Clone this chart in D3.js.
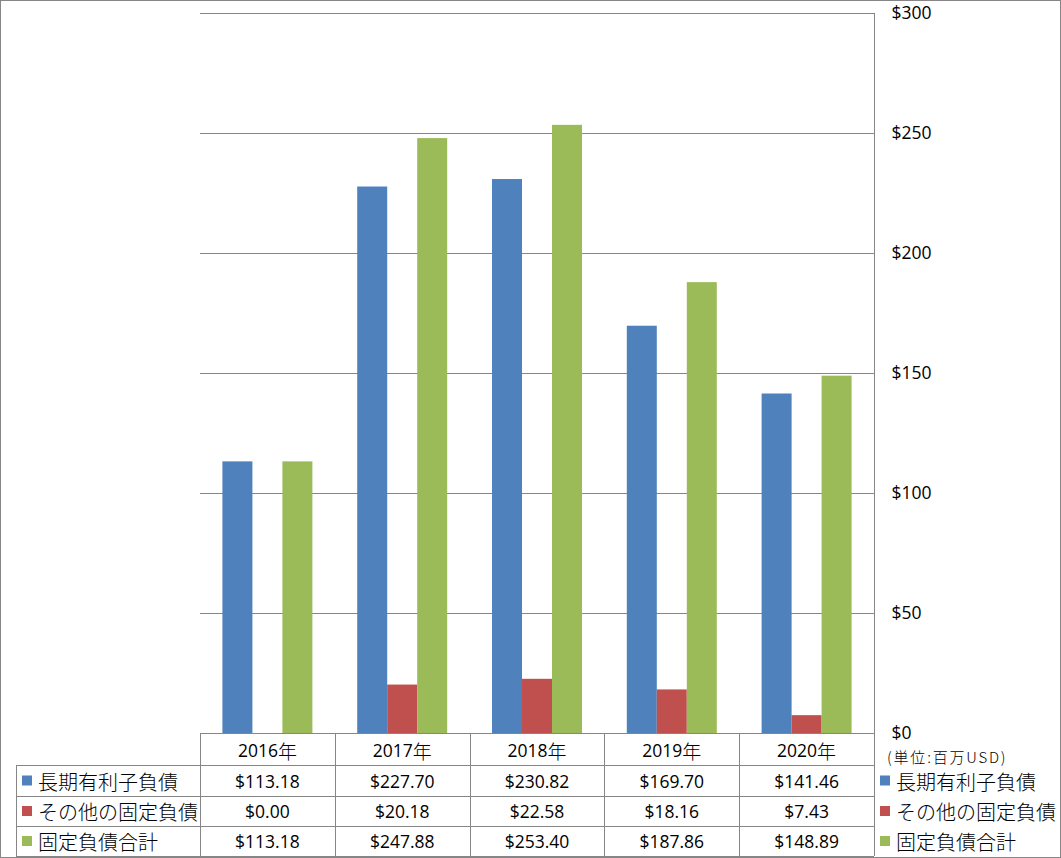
<!DOCTYPE html>
<html><head><meta charset="utf-8">
<script src="https://cdn.jsdelivr.net/npm/d3@7/dist/d3.min.js"></script>
<style>body{margin:0;background:#fff}svg{display:block}</style>
</head><body>
<svg id="c" width="1061" height="858"></svg>
<script>
const categories = ["2016年","2017年","2018年","2019年","2020年"];
const seriesNames = ["長期有利子負債","その他の固定負債","固定負債合計"];
const seriesColors = ["#4F81BD","#C0504D","#9BBB59"];
const longTermDebt = [113.18,227.70,230.82,169.70,141.46];
const otherFixed = [0.00,20.18,22.58,18.16,7.43];
const totalFixed = [113.18,247.88,253.40,187.86,148.89];
const yTicks = [0,50,100,150,200,250,300];
const unitLabel = "(単位:百万USD)";

const seriesValues = [longTermDebt, otherFixed, totalFixed];
const svg = d3.select("#c");
const grid = "#868686";
const L = 200, R = 874, T = 13, B = 733;

const x0 = d3.scaleBand().domain(categories).range([L, R]);
const bw = x0.bandwidth();
const x1 = d3.scaleBand().domain(seriesNames).range([bw*0.1662, bw*0.8338]);
const y = d3.scaleLinear().domain([0,300]).range([B, T]);

// rich text helper: CJK in Noto Sans CJK JP, Latin in Open Sans
function rich(sel, str, latinSize, cjkSize){
  const runs = str.match(/[\u3000-\u9fff\uff00-\uffef]+|[^\u3000-\u9fff\uff00-\uffef]+/g) || [];
  runs.forEach(r=>{
    const cjk = /[\u3000-\u9fff\uff00-\uffef]/.test(r);
    sel.append("tspan").text(r)
      .attr("font-family", cjk ? "'Noto Sans CJK JP'" : "'Open Sans'")
      .attr("font-weight", cjk ? 300 : 400)
      .attr("font-size", cjk ? cjkSize : latinSize);
  });
}

svg.append("rect").attr("x",0.5).attr("y",0.5).attr("width",1060).attr("height",857)
  .attr("fill","#fff").attr("stroke",grid);

// gridlines
svg.append("g").selectAll("line").data(yTicks).join("line")
  .attr("x1",L).attr("x2",R).attr("y1",d=>Math.round(y(d))+0.5).attr("y2",d=>Math.round(y(d))+0.5)
  .attr("stroke",grid).attr("stroke-width",1);

// bars
const groups = svg.append("g").selectAll("g").data(categories).join("g")
  .attr("transform",d=>`translate(${x0(d)},0)`);
groups.selectAll("rect").data((d,i)=>seriesNames.map((s,j)=>({s,j,v:seriesValues[j][i]}))).join("rect")
  .attr("x",d=>x1(d.s)).attr("width",x1.bandwidth())
  .attr("y",d=>y(d.v)).attr("height",d=>B-y(d.v))
  .attr("fill",d=>seriesColors[d.j]);

// right axis
const ax = svg.append("g").attr("transform",`translate(${R+0.5},0)`)
  .call(d3.axisRight(y).tickValues(yTicks).tickSize(0).tickPadding(17).tickFormat(d=>"$"+d));
ax.select(".domain").attr("stroke",grid).attr("d",`M0,${T}V${B}`);
ax.selectAll("text").attr("font-family","'Open Sans'").attr("font-size",17.5).attr("fill","#000");

svg.append("text").attr("x",887).attr("y",756).attr("dominant-baseline","central")
  .attr("font-family","'Noto Sans CJK JP'").attr("font-weight",300).attr("font-size",15)
  .attr("letter-spacing",1.8).text(unitLabel);

// table
const rowsY = [733,765,796,826,856];
const tg = svg.append("g").attr("stroke",grid).attr("stroke-width",1);
rowsY.forEach((ry,i)=>{
  tg.append("line").attr("x1", i===0?L:16).attr("x2",R).attr("y1",ry+0.5).attr("y2",ry+0.5);
});
const colX = categories.map(c=>x0(c)).concat([R]);
colX.forEach(cx=>{
  tg.append("line").attr("x1",Math.round(cx)+0.5).attr("x2",Math.round(cx)+0.5).attr("y1",733).attr("y2",856);
});
tg.append("line").attr("x1",16.5).attr("x2",16.5).attr("y1",765).attr("y2",856);

// header
svg.append("g").selectAll("text").data(categories).join("text")
  .attr("x",d=>x0(d)+bw/2).attr("y",750).attr("text-anchor","middle").attr("dominant-baseline","central")
  .each(function(d){ rich(d3.select(this), d, 17.5, 19); });

// cells
seriesNames.forEach((s,j)=>{
  const cy = (rowsY[j+1]+rowsY[j+2])/2;
  svg.append("g").selectAll("text").data(seriesValues[j]).join("text")
    .attr("x",(d,i)=>x0(categories[i])+bw/2).attr("y",cy).attr("text-anchor","middle")
    .attr("dominant-baseline","central").attr("font-family","'Open Sans'").attr("font-size",17.5)
    .text(d=>"$"+d.toFixed(2));
  // left legend
  svg.append("rect").attr("x",22).attr("y",cy-5).attr("width",10).attr("height",10).attr("fill",seriesColors[j]);
  svg.append("text").attr("x",38).attr("y",cy).attr("dominant-baseline","central")
    .call(t=>rich(t,s,17.5,20));
  // right legend
  svg.append("rect").attr("x",880).attr("y",cy-5).attr("width",10).attr("height",10).attr("fill",seriesColors[j]);
  svg.append("text").attr("x",896).attr("y",cy).attr("dominant-baseline","central")
    .call(t=>rich(t,s,17.5,20));
});
</script>
</body></html>
